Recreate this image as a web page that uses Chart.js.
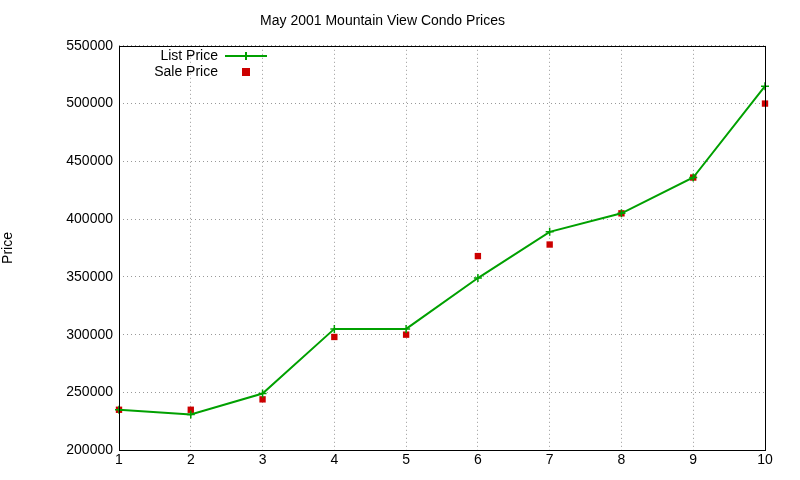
<!DOCTYPE html>
<html><head><meta charset="utf-8">
<script src="https://cdn.jsdelivr.net/npm/chart.js@4"></script>
<style>html,body{margin:0;background:#fff}#w{width:800px;height:480px}</style>
</head><body><div id="w"><canvas id="c"></canvas></div>
<script>
const houses = [1,2,3,4,5,6,7,8,9,10];
const listPrice = [235000,231000,249000,305000,305000,349000,389000,405000,436000,515000];
const salePrice = [235000,235000,244000,298000,300000,368000,378000,405000,436000,500000];
const titleText = 'May 2001 Mountain View Condo Prices';
const yTitle = 'Price';
const F = 'Liberation Sans, Arial, sans-serif';

const legendPlugin = {
  id: 'gl',
  afterDraw(ch) {
    const ctx = ch.ctx, a = ch.chartArea;
    ctx.save();
    ctx.strokeStyle = '#000'; ctx.lineWidth = 1;
    ctx.strokeRect(Math.round(a.left)+0.5, Math.round(a.top)+0.5, Math.round(a.right-a.left), Math.round(a.bottom-a.top));
    ctx.font = '14px ' + F; ctx.fillStyle = '#000'; ctx.textAlign = 'right'; ctx.textBaseline = 'middle';
    const xr = 218, y1 = 56, y2 = 72;
    ctx.fillText(ch.data.datasets[0].label, xr, y1);
    ctx.fillText(ch.data.datasets[1].label, xr, y2);
    ctx.strokeStyle = '#00a000'; ctx.lineWidth = 2;
    ctx.beginPath(); ctx.moveTo(225, y1); ctx.lineTo(267, y1); ctx.stroke();
    ctx.beginPath(); ctx.moveTo(246, y1-4); ctx.lineTo(246, y1+4); ctx.stroke();
    ctx.fillStyle = '#cc0000'; ctx.fillRect(242, y2-4, 8, 8);
    ctx.restore();
  }
};

new Chart(document.getElementById('c'), {
  type: 'line',
  data: { datasets: [
    { label: 'List Price', data: houses.map((x,i)=>({x, y:listPrice[i]})), borderColor:'#00a000', backgroundColor:'#00a000', borderWidth:2, pointStyle:'cross', pointRadius:4, pointBorderWidth:1.5, tension:0, clip:false },
    { label: 'Sale Price', data: houses.map((x,i)=>({x, y:salePrice[i]})), showLine:false, pointStyle:'rect', pointRadius:4.5, backgroundColor:'#cc0000', borderColor:'#cc0000', borderWidth:0, clip:false }
  ]},
  plugins: [legendPlugin],
  options: {
    responsive:true, maintainAspectRatio:false, animation:false,
    layout:{ padding:{ top:11, right:35, bottom:9, left:0 } },
    plugins:{ legend:{display:false}, tooltip:{enabled:false},
      title:{ display:true, text:titleText, color:'#000', font:{family:F, size:14, weight:'normal'}, padding:{top:2,bottom:16} } },
    scales:{
      x:{ type:'linear', min:1, max:10, ticks:{stepSize:1, color:'#000', font:{family:F,size:14}, padding:2},
          grid:{ color:'#999', tickLength:0 }, border:{display:false, dash:[1,3]} },
      y:{ min:200000, max:550000, ticks:{stepSize:50000, color:'#000', font:{family:F,size:14}, padding:6, callback:v=>String(v)},
          afterFit(s){ s.width = 119; },
          title:{ display:true, text:yTitle, color:'#000', font:{family:F,size:14}, padding:{top:0,bottom:20} },
          grid:{ color:'#999', tickLength:0 }, border:{display:false, dash:[1,3]} }
    }
  }
});
</script></body></html>
